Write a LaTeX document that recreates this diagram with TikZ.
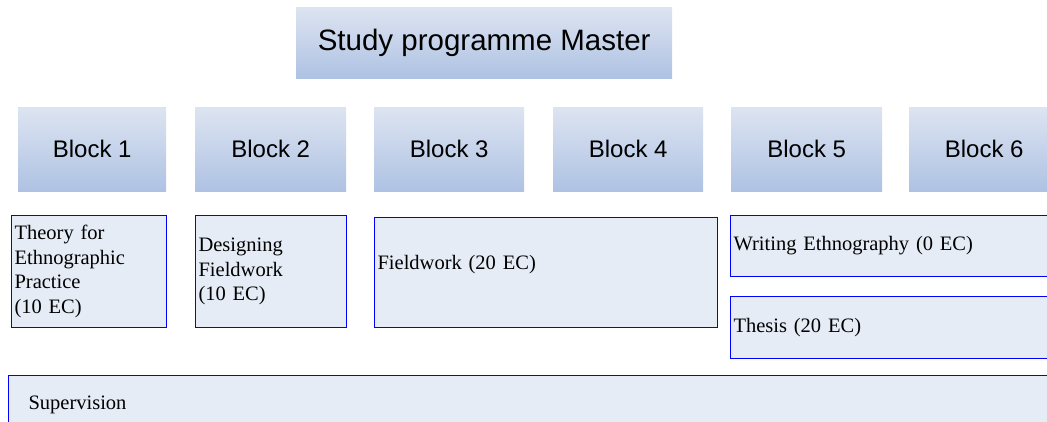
\documentclass[tikz,border=0pt]{standalone}
\usepackage{fontspec}
\setmainfont{Liberation Serif}
\newfontfamily\hdrfont{Liberation Sans}
\definecolor{hdrtop}{RGB}{221,228,241}
\definecolor{hdrbot}{RGB}{174,194,227}
\definecolor{boxfill}{RGB}{230,236,246}
\definecolor{boxline}{RGB}{0,0,255}
\begin{document}
\begin{tikzpicture}[x=1pt,y=-1pt,
  hdr/.style={rectangle, draw=none, top color=hdrtop, bottom color=hdrbot, anchor=north west,
    inner sep=0pt, font=\hdrfont\fontsize{24}{28}\selectfont, text=black},
  course/.style={rectangle, draw=boxline, line width=1.1pt, fill=boxfill, anchor=north west,
    inner xsep=3pt, inner ysep=0pt, align=left,
    font=\fontsize{20.5}{24.5}\selectfont, text=black}]
\useasboundingbox (0,0) rectangle (1047,421);
\clip (0,0) rectangle (1047,421);
% title
\node[hdr, minimum width=376pt, minimum height=71pt, font=\hdrfont\fontsize{29.5}{34}\selectfont] (title) at (296,7) {Study programme Master};
% blocks
\node[hdr, minimum width=148pt, minimum height=84pt] (b1) at (18,107) {Block 1};
\node[hdr, minimum width=151pt, minimum height=84pt] (b2) at (195,107) {Block 2};
\node[hdr, minimum width=150pt, minimum height=84pt] (b3) at (374,107) {Block 3};
\node[hdr, minimum width=150pt, minimum height=84pt] (b4) at (553,107) {Block 4};
\node[hdr, minimum width=151pt, minimum height=84pt] (b5) at (731,107) {Block 5};
\node[hdr, minimum width=150pt, minimum height=84pt] (b6) at (909,107) {Block 6};
% courses
\node[course, text width=149pt, minimum height=112pt] (theory) at (11,215)
  {Theory for\\Ethnographic\\Practice\\(10 EC)};
\node[course, text width=145pt, minimum height=112pt] (design) at (195,215)
  {Designing\\Fieldwork\\(10 EC)};
\node[course, text width=337pt, minimum height=110pt, text depth=20pt] (field) at (374,217)
  {Fieldwork (20 EC)};
\node[course, text width=340pt, minimum height=61pt] (writing) at (730,215)
  {Writing Ethnography (0 EC)};
\node[course, text width=340pt, minimum height=62pt] (thesis) at (730,296)
  {Thesis (20 EC)};
\node[course, inner xsep=20pt, text width=1030pt, minimum height=64pt, text depth=10pt] (superv) at (8,375)
  {Supervision};
\end{tikzpicture}
\end{document}
